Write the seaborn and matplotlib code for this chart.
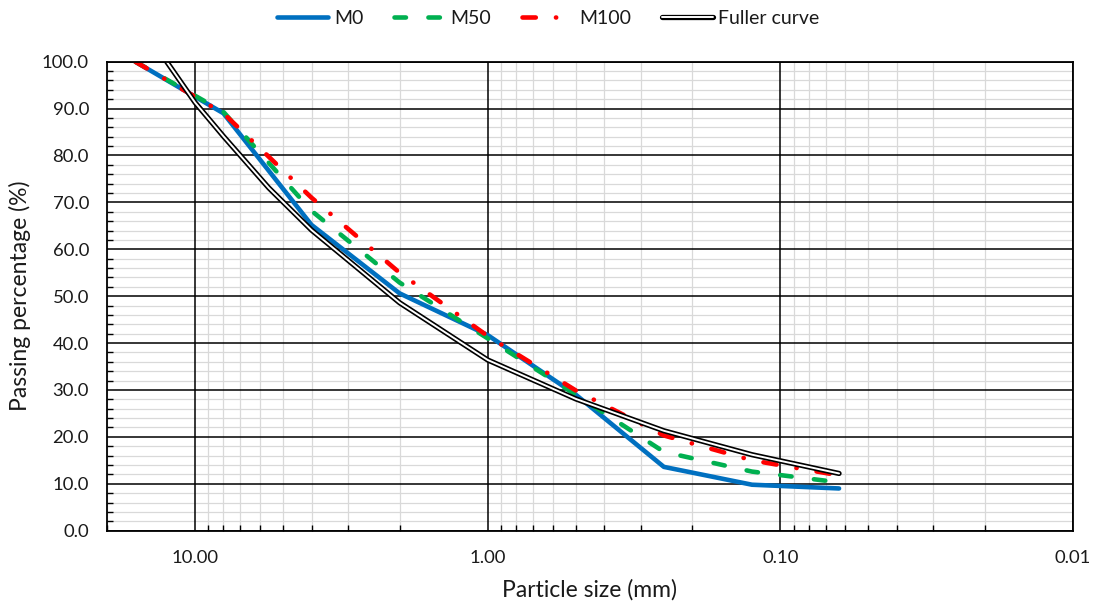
import matplotlib
matplotlib.use("Agg")
import matplotlib.pyplot as plt
import seaborn as sns
import pandas as pd
from matplotlib.lines import Line2D
from matplotlib.ticker import FixedLocator, FuncFormatter, LogLocator, MultipleLocator, NullFormatter

# ---------------- data ----------------
sieve = [16, 8, 4, 2, 1, 0.5, 0.25, 0.125, 0.063]
m0 = [100.0, 89.0, 65.2, 50.6, 41.7, 29.0, 13.6, 9.8, 9.0]
m50 = [100.0, 89.3, 68.2, 52.9, 41.0, 29.0, 16.8, 12.6, 10.3]
m100 = [100.0, 89.0, 71.0, 55.0, 41.5, 29.9, 20.3, 15.0, 11.8]
fuller_size = [12.5, 10, 8, 5.6, 4, 2, 1, 0.5, 0.25, 0.125, 0.063]
fuller_pass = [100.0, 91.3, 84.1, 73.1, 64.1, 48.6, 36.4, 28.1, 21.3, 16.2, 12.2]
x_ticks = [10, 1, 0.1, 0.01]
series_names = ["M0", "M50", "M100", "Fuller curve"]

sns.set_style("white")
plt.rcParams["font.family"] = ["Lato", "DejaVu Sans"]

fig = plt.figure(figsize=(10.97, 6.06), dpi=100)
ax = fig.add_axes([0.0975, 0.1243, 0.8806, 0.7739])

df = pd.DataFrame({"size": sieve, "M0": m0, "M50": m50, "M100": m100})
dff = pd.DataFrame({"size": fuller_size, "pass": fuller_pass})

BLUE, GREEN, RED = "#0070C0", "#00B050", "#FF0000"
LW = 3.3
DASH50 = (2.5, 4.9)
DASH100 = (2.9, 4.4, 0.05, 4.4)

sns.lineplot(data=df, x="size", y="M0", ax=ax, color=BLUE, lw=LW, sort=False,
             legend=False, zorder=3)
l0 = ax.lines[-1]
l0.set_solid_joinstyle("round")

sns.lineplot(data=df, x="size", y="M50", ax=ax, color=GREEN, lw=LW, sort=False,
             legend=False, zorder=3)
l50 = ax.lines[-1]
l50.set_dashes(DASH50)
l50.set_dash_capstyle("round")

sns.lineplot(data=df, x="size", y="M100", ax=ax, color=RED, lw=LW, sort=False,
             legend=False, zorder=3)
l100 = ax.lines[-1]
l100.set_dashes(DASH100)
l100.set_dash_capstyle("round")

sns.lineplot(data=dff, x="size", y="pass", ax=ax, color="black", lw=3.8, sort=False,
             legend=False, zorder=4)
lfb = ax.lines[-1]
lfb.set_solid_capstyle("round")
sns.lineplot(data=dff, x="size", y="pass", ax=ax, color="white", lw=1.4, sort=False,
             legend=False, zorder=5)
lfw = ax.lines[-1]
lfw.set_solid_capstyle("round")

# ---------------- axes ----------------
ax.set_xscale("log")
ax.set_xlim(20, 0.01)
ax.set_ylim(0, 100)
ax.xaxis.set_major_locator(FixedLocator(x_ticks))
ax.xaxis.set_major_formatter(FuncFormatter(lambda v, p: f"{v:.2f}"))
ax.xaxis.set_minor_locator(LogLocator(base=10, subs=range(2, 10), numticks=50))
ax.xaxis.set_minor_formatter(NullFormatter())
ax.yaxis.set_major_locator(MultipleLocator(10))
ax.yaxis.set_minor_locator(MultipleLocator(2))
ax.yaxis.set_major_formatter(FuncFormatter(lambda v, p: f"{v:.1f}"))
ax.grid(False)

# gridlines from the axis locators: all light minor lines below all black major lines
x0, x1 = ax.get_xlim()
y0, y1 = ax.get_ylim()
xmin_t = [v for v in ax.get_xticks(minor=True) if min(x0, x1) <= v <= max(x0, x1)]
ymin_t = [v for v in ax.get_yticks(minor=True) if y0 <= v <= y1]
xmaj_t = [v for v in ax.get_xticks() if min(x0, x1) <= v <= max(x0, x1)]
ymaj_t = [v for v in ax.get_yticks() if y0 <= v <= y1]
ax.vlines(xmin_t, y0, y1, colors="#D9D9D9", lw=0.9, zorder=0.5)
ax.hlines(ymin_t, x0, x1, colors="#D9D9D9", lw=0.9, zorder=0.5)
ax.vlines(xmaj_t, y0, y1, colors="black", lw=1.1, zorder=1)
ax.hlines(ymaj_t, x0, x1, colors="black", lw=1.1, zorder=1)
ax.set_xlim(x0, x1)
ax.set_ylim(y0, y1)

ax.tick_params(which="both", direction="in", bottom=True, left=True, top=False, right=False,
               color="black")
ax.tick_params(which="minor", length=4, width=1.0)
ax.tick_params(which="major", length=0, width=1.0, labelsize=13.3, labelcolor="#1a1a1a")
ax.tick_params(axis="y", which="major", pad=13)
ax.tick_params(axis="x", which="major", pad=14)

for s in ax.spines.values():
    s.set_visible(True)
    s.set_color("black")
    s.set_linewidth(1.3)
    s.set_zorder(6)

ax.set_xlabel("Particle size (mm)", fontsize=16.5, color="#1a1a1a", labelpad=9)
ax.set_ylabel("Passing percentage (%)", fontsize=16.5, color="#1a1a1a", labelpad=8)

# ---------------- legend ----------------
h0 = Line2D([], [], color=BLUE, lw=LW)
h50 = Line2D([], [], color=GREEN, lw=LW, dashes=DASH50, dash_capstyle="round")
h100 = Line2D([], [], color=RED, lw=LW, dashes=DASH100, dash_capstyle="round")
hfb = Line2D([], [], color="black", lw=3.8, solid_capstyle="round")
hfw = Line2D([], [], color="white", lw=1.4, solid_capstyle="round")
leg = fig.legend([h0, h50, h100, (hfb, hfw)], series_names, loc="center",
                 bbox_to_anchor=(0.5, 0.97), ncol=4, frameon=False, fontsize=14,
                 handlelength=2.6, handletextpad=0.3, columnspacing=1.6)
for t in leg.get_texts():
    t.set_color("#1a1a1a")

fig.savefig("out.png", dpi=100)
